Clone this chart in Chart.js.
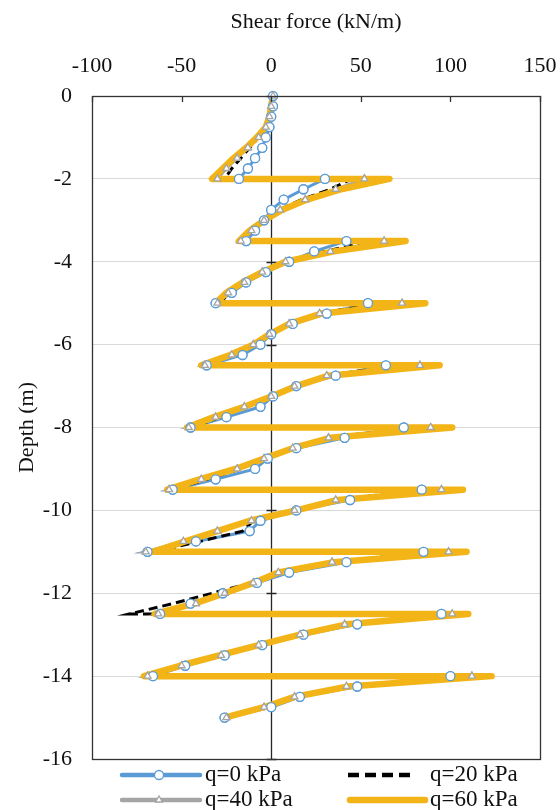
<!DOCTYPE html>
<html>
<head>
<meta charset="utf-8">
<title>Shear force along the wall</title>
<script src="https://cdn.jsdelivr.net/npm/chart.js@4.4.1/dist/chart.umd.min.js"></script>
<style>
  html, body { margin: 0; padding: 0; background: #fff; overflow: hidden; }
  #wrap { width: 560px; height: 810px; }
</style>
</head>
<body>
<div id="wrap"><canvas id="shear"></canvas></div>
<script>
// depth of each output point (m); strut levels appear twice (jump in shear)
const depth = [
  0, -0.25, -0.5, -0.75, -1, -1.25, -1.5, -1.75, -2,
  -2, -2.25, -2.5, -2.75, -3, -3.25, -3.5,
  -3.5, -3.75, -4, -4.25, -4.5, -4.75, -5,
  -5, -5.25, -5.5, -5.75, -6, -6.25, -6.5,
  -6.5, -6.75, -7, -7.25, -7.5, -7.75, -8,
  -8, -8.25, -8.5, -8.75, -9, -9.25, -9.5,
  -9.5, -9.75, -10, -10.25, -10.5, -10.75, -11,
  -11, -11.25, -11.5, -11.75, -12, -12.25, -12.5,
  -12.5, -12.75, -13, -13.25, -13.5, -13.75, -14,
  -14, -14.25, -14.5, -14.75, -15
];

// shear force (kN/m) for each surcharge
const shearQ0 = [
  1, 1, 0, -1, -3, -5, -9, -13, -18,
  30, 18, 7, 0, -4, -9, -14,
  42, 24, 10, -3, -14, -22, -31,
  54, 31, 12, 0, -6, -16, -36,
  64, 36, 14, 1, -6, -25, -45,
  74, 41, 14, -2, -9, -31, -55,
  84, 44, 14, -6, -12, -42, -69,
  85, 42, 10, -8, -27, -45, -62,
  95, 48, 18, -5, -26, -48, -66,
  100, 48, 16, 0, -26
];
const shearQ20 = [
  1, 0, -1, -3, -7, -12, -17, -22, -26,
  45, 33, 17, 4, -5, -12, -18,
  55, 30, 7, -6, -15, -23, -29,
  62, 26, 9, -2, -11, -22, -36,
  72, 30, 12, -1, -14, -29, -44,
  80, 31, 11, -5, -17, -36, -55,
  88, 35, 12, -10, -16, -40, -65,
  92, 33, 3, -11, -33, -55, -79,
  98, 40, 15, -8, -28, -49, -68,
  105, 41, 12, -5, -25
];
const shearQ40 = [
  1, 0, -1, -3, -7, -13, -19, -25, -30,
  52, 36, 19, 5, -4, -11, -17,
  63, 33, 8, -5, -15, -24, -30,
  73, 27, 10, -1, -10, -22, -37,
  83, 31, 13, 0, -15, -31, -46,
  89, 32, 12, -4, -19, -39, -57,
  95, 36, 13, -11, -30, -49, -70,
  99, 34, 4, -10, -26, -42, -63,
  101, 41, 16, -7, -28, -50, -69,
  112, 42, 13, -4, -25
];
const shearQ60 = [
  1, 0, -1, -3, -8, -14, -21, -27, -33,
  66, 39, 20, 6, -4, -12, -18,
  75, 35, 8, -5, -16, -25, -31,
  86, 28, 10, -1, -10, -23, -39,
  94, 32, 14, 0, -15, -32, -47,
  101, 33, 12, -4, -20, -40, -58,
  107, 37, 14, -12, -30, -48, -66,
  109, 35, 4, -10, -26, -43, -65,
  110, 42, 16, -7, -29, -51, -71,
  123, 43, 13, -4, -26
];

const seriesNames = ['q=0 kPa', 'q=20 kPa', 'q=40 kPa', 'q=60 kPa'];

const toPoints = vals => vals.map((v, i) => ({ x: v, y: depth[i] }));

const serif = "'Liberation Serif', 'Times New Roman', serif";
Chart.defaults.font.family = serif;
Chart.defaults.color = '#111';

// zero line with cross ticks, markers on top, plot frame, and the legend
const frame = {
  id: 'frame',
  beforeDatasetsDraw(chart) {
    const { ctx, chartArea: a, scales: { x, y } } = chart;
    const x0 = Math.round(x.getPixelForValue(0)) + 0.5;
    ctx.save();
    ctx.strokeStyle = '#262626';
    ctx.lineWidth = 1.3;
    ctx.beginPath();
    ctx.moveTo(x0, a.top);
    ctx.lineTo(x0, a.bottom);
    y.ticks.forEach(t => {
      const py = Math.round(y.getPixelForValue(t.value)) + 0.5;
      ctx.moveTo(x0 - 5, py);
      ctx.lineTo(x0 + 5, py);
    });
    ctx.stroke();
    ctx.restore();
  },
  afterDatasetsDraw(chart) {
    const { ctx, chartArea: a, scales: { x } } = chart;
    chart.data.datasets.forEach((ds, i) => {
      if (!ds.pointRadius) return;
      chart.getDatasetMeta(i).data.forEach(p => p.draw(ctx, a));
    });
    ctx.save();
    ctx.strokeStyle = '#333';
    ctx.lineWidth = 1.3;
    ctx.strokeRect(Math.round(a.left) + 0.5, Math.round(a.top) + 0.5,
      Math.round(a.width), Math.round(a.height));
    ctx.beginPath();
    x.ticks.forEach(t => {
      const px = Math.round(x.getPixelForValue(t.value)) + 0.5;
      ctx.moveTo(px, a.top);
      ctx.lineTo(px, a.top + 6);
    });
    ctx.stroke();
    ctx.restore();
  },
  afterDraw(chart) {
    const { ctx } = chart;
    // x, y and sample length of each legend entry
    const slots = [[122, 775, 78], [348, 775, 67], [122, 800, 78], [350, 800, 75]];
    ctx.save();
    chart.data.datasets.forEach((ds, i) => {
      const [lx, ly, len] = slots[i];
      ctx.beginPath();
      ctx.strokeStyle = ds.borderColor;
      ctx.lineWidth = Math.max(ds.borderWidth, 4.5);
      ctx.setLineDash(ds.borderDash ? [11, 6] : []);
      ctx.lineCap = ds.borderDash ? 'butt' : 'round';
      ctx.moveTo(lx, ly);
      ctx.lineTo(lx + len, ly);
      ctx.stroke();
      ctx.setLineDash([]);
      if (ds.pointRadius) {
        ctx.fillStyle = ds.pointBackgroundColor;
        ctx.strokeStyle = ds.pointBorderColor;
        ctx.lineWidth = ds.pointBorderWidth;
        Chart.helpers.drawPoint(ctx, {
          pointStyle: ds.pointStyle, radius: ds.pointRadius,
          borderWidth: ds.pointBorderWidth, rotation: 0
        }, lx + 37, ly);
      }
      ctx.fillStyle = '#111';
      ctx.font = '23px ' + serif;
      ctx.textBaseline = 'middle';
      ctx.fillText(ds.label, i % 2 ? 430 : 205, ly);
    });
    ctx.restore();
  }
};

new Chart(document.getElementById('shear'), {
  type: 'scatter',
  data: {
    datasets: [
      {
        label: seriesNames[0],
        data: toPoints(shearQ0),
        showLine: true,
        borderColor: '#5b9bd5',
        borderWidth: 3,
        pointStyle: 'circle',
        pointRadius: 4.5,
        pointBackgroundColor: '#fff',
        pointBorderColor: '#5b9bd5',
        pointBorderWidth: 1.3,
        order: 4
      },
      {
        label: seriesNames[1],
        data: toPoints(shearQ20),
        showLine: true,
        borderColor: '#000',
        borderWidth: 3,
        borderDash: [9, 5],
        pointRadius: 0,
        order: 3
      },
      {
        label: seriesNames[2],
        data: toPoints(shearQ40),
        showLine: true,
        borderColor: '#a5a5a5',
        borderWidth: 3,
        pointStyle: 'triangle',
        pointRadius: 4,
        pointBackgroundColor: '#fff',
        pointBorderColor: '#a5a5a5',
        pointBorderWidth: 1.3,
        order: 2
      },
      {
        label: seriesNames[3],
        data: toPoints(shearQ60),
        showLine: true,
        borderColor: '#f2b416',
        borderWidth: 6.5,
        borderJoinStyle: 'round',
        borderCapStyle: 'round',
        pointRadius: 0,
        order: 1
      }
    ]
  },
  options: {
    responsive: true,
    maintainAspectRatio: false,
    animation: false,
    events: [],
    layout: { padding: { left: 0, right: 20, top: 0, bottom: 51 } },
    plugins: {
      legend: { display: false },
      tooltip: { enabled: false }
    },
    scales: {
      x: {
        type: 'linear',
        position: 'top',
        min: -100,
        max: 150,
        ticks: { stepSize: 50, padding: 0, font: { size: 22 } },
        // invisible tick marks keep the labels clear of the frame
        grid: {
          display: true,
          drawOnChartArea: false,
          drawTicks: true,
          tickLength: 17,
          color: 'rgba(0,0,0,0)'
        },
        border: { display: false },
        title: {
          display: true,
          text: 'Shear force (kN/m)',
          font: { size: 22 },
          padding: { top: 9, bottom: 18 }
        },
        afterFit(s) { s.height = 96; }
      },
      y: {
        type: 'linear',
        min: -16,
        max: 0,
        ticks: { stepSize: 2, padding: 20, font: { size: 22 } },
        grid: { color: '#d9d9d9', lineWidth: 1, drawTicks: false },
        border: { display: false },
        title: {
          display: true,
          text: 'Depth (m)',
          font: { size: 22 },
          padding: { top: 14, bottom: 6 }
        },
        afterFit(s) { s.width = 92; }
      }
    }
  },
  plugins: [frame]
});
</script>
</body>
</html>
